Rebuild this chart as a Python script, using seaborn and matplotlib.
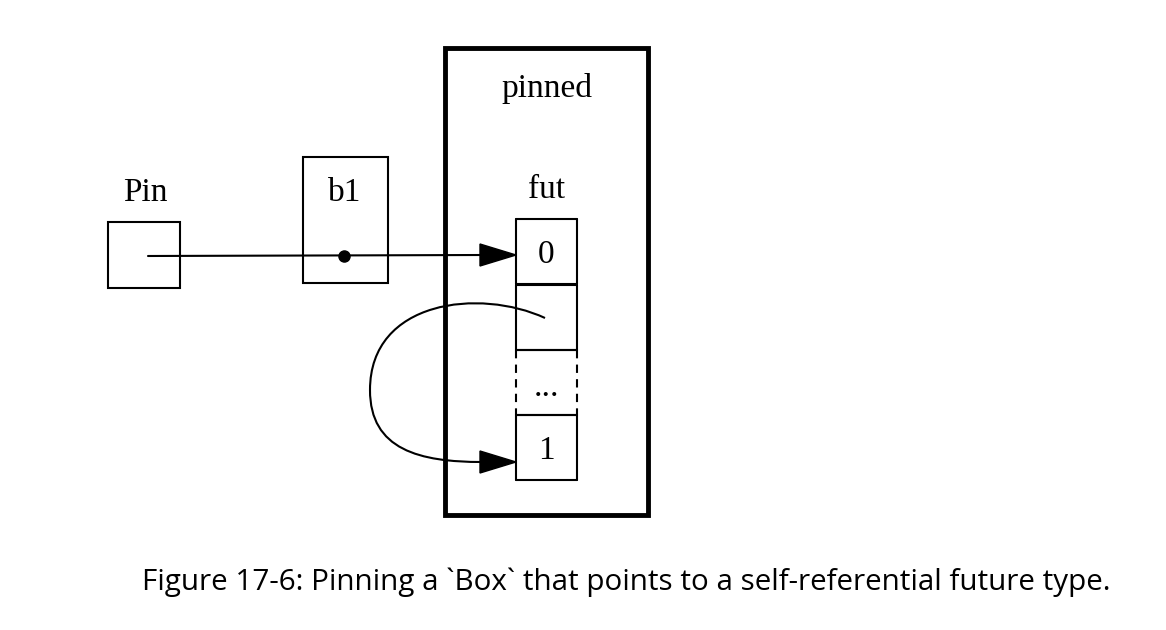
import numpy as np
import seaborn as sns
import matplotlib.pyplot as plt
from matplotlib.patches import Rectangle, Polygon, PathPatch
from matplotlib.path import Path

# diagram geometry (pixel units, y downwards)
boxes = {"Pin": (108, 222, 72, 66), "b1": (303, 157, 85, 126)}
box_labels = ["Pin", "b1"]
label_pos = [(145, 193), (345, 193)]
pinned_box = (445, 48, 203, 467)
fut_x, fut_w = 516, 61
cell_tops = [219, 285, 350, 415]
cell_h = 65
cell_text = ["0", "", "...", "1"]
cell_dashed = [False, False, True, False]
caption = "Figure 17-6: Pinning a `Box` that points to a self-referential future type."

sns.set_theme(style="white")
fig = plt.figure(figsize=(11.66, 6.3), dpi=100)
ax = fig.add_axes([0, 0, 1, 1])
ax.set_xlim(0, 1166)
ax.set_ylim(630, 0)
ax.axis("off")
serif = ["Liberation Serif", "DejaVu Serif"]

x, y, w, h = pinned_box
ax.add_patch(Rectangle((x, y), w, h, fill=False, lw=3.5, ec="black"))
ax.text(x + w / 2, 88, "pinned", ha="center", va="center", fontsize=24, family=serif, color="black")
ax.text(547, 190, "fut", ha="center", va="center", fontsize=24, family=serif, color="black")

for name, (lx, ly) in zip(box_labels, label_pos):
    bx, by, bw, bh = boxes[name]
    ax.add_patch(Rectangle((bx, by), bw, bh, fill=False, lw=1.5, ec="black"))
    ax.text(lx, ly, name, ha="center", va="center", fontsize=24, family=serif, color="black")

for top, t, dashed in zip(cell_tops, cell_text, cell_dashed):
    ax.plot([fut_x, fut_x + fut_w], [top, top], color="black", lw=1.5)
    ax.plot([fut_x, fut_x + fut_w], [top + cell_h, top + cell_h], color="black", lw=1.5)
    ls = (0, (4, 3)) if dashed else "-"
    ax.plot([fut_x, fut_x], [top, top + cell_h], color="black", lw=1.5, ls=ls)
    ax.plot([fut_x + fut_w, fut_x + fut_w], [top, top + cell_h], color="black", lw=1.5, ls=ls)
    va = "bottom" if t == "..." else "center"
    ty = top + cell_h / 2 + (20 if t == "..." else 3)
    ax.text(fut_x + fut_w / 2, ty, t, ha="center", va=va, fontsize=24, family=serif, color="black")

def arrowhead(tip_x, tip_y):
    ax.add_patch(Polygon([(tip_x, tip_y), (tip_x - 36, tip_y - 11), (tip_x - 36, tip_y + 11)],
                         closed=True, color="black"))

# pointer line Pin -> b1 -> fut[0]
ax.plot([148, 482], [256, 255], color="black", lw=1.5)
ax.plot([344], [255.5], "o", color="black", ms=8)
arrowhead(fut_x, 255)

# self reference curve
verts = [(545, 318), (480, 288), (370, 300), (370, 390),
         (370, 450), (420, 462), (482, 462)]
codes = [Path.MOVETO] + [Path.CURVE4] * 6
ax.add_patch(PathPatch(Path(verts, codes), fill=False, lw=1.5, ec="black"))
arrowhead(fut_x, 462)

ax.text(626, 582, caption, ha="center", va="center", fontsize=21.3,
        family=["Open Sans", "DejaVu Sans"], color="black")

fig.savefig("out.png", dpi=100)
